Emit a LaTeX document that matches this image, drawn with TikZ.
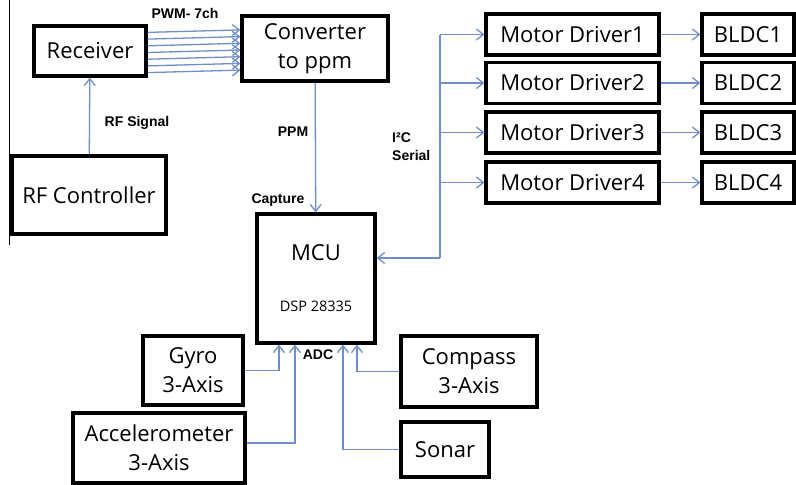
\documentclass[tikz,border=0pt]{standalone}
\usepackage{fontspec}
\setmainfont{Open Sans}
\newfontfamily\labelfont{Liberation Sans}
\usetikzlibrary{arrows.meta,positioning,calc}
\definecolor{linkblue}{RGB}{112,142,202}
\tikzset{
    blockbox/.style={
        rectangle,                % caja simple
        draw=black,               % borde negro
        line width=3.2pt,         % borde grueso
        inner sep=0pt,
        minimum width=#1,         % ancho segun el bloque
        align=center,             % texto centrado
        font=\fontsize{22}{29}\selectfont
    },
    link/.style={
        draw=linkblue,            % conector azul claro
        line width=1.3pt,
        -{Straight Barb[length=7pt,width=11pt]}
    },
    tag/.style={
        font=\labelfont\bfseries\fontsize{14}{18}\selectfont,
        inner sep=0pt
        % Nota: etiquetas pequenas de los conectores
    }
}
\begin{document}
\begin{tikzpicture}[x=1pt,y=-1pt]
			\useasboundingbox (0,0) rectangle (796,485);
			\draw[line width=0.8pt] (9,0) -- (9,245);

			\node[blockbox=112pt, minimum height=50pt] (rec) at (90,51) {Receiver};
			\node[blockbox=146pt, minimum height=65pt] (conv) at (315,48.5) {Converter\\to ppm};
			\node[blockbox=154pt, minimum height=78pt] (rfc) at (89,195) {RF Controller};
			\node[blockbox=118pt, minimum height=129pt] (mcu) at (316,278.5) {
				MCU\\[22pt]
				\fontsize{14.5}{16}\selectfont DSP 28335
			};
			\foreach \i/\y in {1/34.5,2/83,3/132.5,4/182.5} {
				\node[blockbox=173pt, minimum height=41pt] (md\i) at (572.5,\y) {Motor Driver\i};
				\node[blockbox=92pt, minimum height=41pt] (bldc\i) at (748,\y) {BLDC\i};
				\draw[link] (md\i) -- (bldc\i);
			}
			\node[blockbox=100pt, minimum height=69pt] (gyro) at (193,370.5) {Gyro\\3-Axis};
			\node[blockbox=172pt, minimum height=70pt] (acc) at (159,448) {Accelerometer\\3-Axis};
			\node[blockbox=136pt, minimum height=71pt] (comp) at (469,371.5) {Compass\\3-Axis};
			\node[blockbox=88pt, minimum height=55pt] (sonar) at (445,449.5) {Sonar};

			\foreach \k in {-3,...,3}
				\draw[link] ([yshift=-1.5pt+\k*6.7pt]rec.east) -- ([yshift=-1.5pt+\k*6.7pt]conv.west);
			\draw[link] (rfc) -- (rec);
			\draw[link] (conv) -- (mcu);

			\coordinate (bus) at (440,258);
			\draw[link] (bus) -- (bus -| mcu.east);
			\draw[link,-] (bus) -- (bus |- md1.west);
			\foreach \i in {1,...,4}
				\draw[link] (bus |- md\i.west) -- (md\i.west);

			\draw[link] (gyro.east) -| ([xshift=-37pt]mcu.south);
			\draw[link] ([yshift=5pt]acc.east) -| ([xshift=-21pt]mcu.south);
			\draw[link] (sonar.west) -| ([xshift=27pt]mcu.south);
			\draw[link] (comp.west) -| ([xshift=41pt]mcu.south);

			\node[tag] (pwm) at (185,13) {PWM- 7ch};
			\node[tag] (rfs) at (137,123) {RF Signal};
			\node[tag] (ppm) at (293,132) {PPM};
			\node[tag] (cap) at (278,200) {Capture};
			\node[tag, anchor=west, align=left] (i2c) at (392,147) {I²C\\Serial};
			\node[tag] (adc) at (318,355) {ADC};
		\end{tikzpicture}
\end{document}
